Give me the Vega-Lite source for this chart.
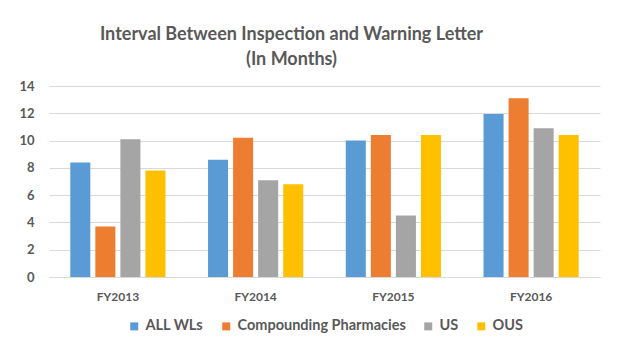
{
  "$schema": "https://vega.github.io/schema/vega-lite/v6.json",
  "width": 551,
  "height": 191,
  "padding": {"left": 18, "right": 25, "top": 26, "bottom": 5},
  "background": "white",
  "title": {
    "text": ["Interval Between Inspection and Warning Letter", "(In Months)"],
    "font": "Lato",
    "fontSize": 18,
    "fontWeight": "bold",
    "color": "#595959",
    "lineHeight": 25,
    "anchor": "middle",
    "dx": -33,
    "offset": 11
  },
  "data": {
    "values": [
      {"year": "FY2013", "series": "ALL WLs", "value": 8.4},
      {"year": "FY2013", "series": "Compounding Pharmacies", "value": 3.7},
      {"year": "FY2013", "series": "US", "value": 10.1},
      {"year": "FY2013", "series": "OUS", "value": 7.8},
      {"year": "FY2014", "series": "ALL WLs", "value": 8.6},
      {"year": "FY2014", "series": "Compounding Pharmacies", "value": 10.2},
      {"year": "FY2014", "series": "US", "value": 7.1},
      {"year": "FY2014", "series": "OUS", "value": 6.8},
      {"year": "FY2015", "series": "ALL WLs", "value": 10.0},
      {"year": "FY2015", "series": "Compounding Pharmacies", "value": 10.4},
      {"year": "FY2015", "series": "US", "value": 4.5},
      {"year": "FY2015", "series": "OUS", "value": 10.4},
      {"year": "FY2016", "series": "ALL WLs", "value": 11.95},
      {"year": "FY2016", "series": "Compounding Pharmacies", "value": 13.1},
      {"year": "FY2016", "series": "US", "value": 10.9},
      {"year": "FY2016", "series": "OUS", "value": 10.4}
    ]
  },
  "mark": {"type": "bar"},
  "encoding": {
    "x": {
      "field": "year",
      "type": "nominal",
      "scale": {"paddingInner": 0.2727, "paddingOuter": 0.1364},
      "axis": {
        "title": null,
        "labelAngle": 0,
        "labelFont": "Lato",
        "labelFontSize": 12,
        "labelFontWeight": "bold",
        "labelColor": "#595959",
        "labelPadding": 14,
        "ticks": false,
        "domainColor": "#d9d9d9",
        "domainWidth": 1
      }
    },
    "xOffset": {
      "field": "series",
      "type": "nominal",
      "sort": ["ALL WLs", "Compounding Pharmacies", "US", "OUS"],
      "scale": {"paddingInner": 0.2, "paddingOuter": 0.1}
    },
    "y": {
      "field": "value",
      "type": "quantitative",
      "scale": {"domain": [0, 14]},
      "axis": {
        "title": null,
        "values": [0, 2, 4, 6, 8, 10, 12, 14],
        "domain": false,
        "ticks": false,
        "labelFont": "Lato",
        "labelFontSize": 13,
        "labelFontWeight": "bold",
        "labelColor": "#595959",
        "labelPadding": 15,
        "gridColor": "#d9d9d9",
        "gridWidth": 1
      }
    },
    "color": {
      "field": "series",
      "type": "nominal",
      "sort": ["ALL WLs", "Compounding Pharmacies", "US", "OUS"],
      "scale": {
        "domain": ["ALL WLs", "Compounding Pharmacies", "US", "OUS"],
        "range": ["#5B9BD5", "#ED7D31", "#A5A5A5", "#FFC000"]
      },
      "legend": {
        "title": null,
        "orient": "bottom",
        "direction": "horizontal",
        "symbolType": "square",
        "symbolSize": 64,
        "symbolStrokeWidth": 0,
        "labelFont": "Lato",
        "labelFontSize": 14.5,
        "labelFontWeight": "bold",
        "labelColor": "#595959",
        "labelLimit": 0,
        "labelOffset": 4,
        "columnPadding": 15,
        "offset": 17
      }
    }
  },
  "config": {
    "view": {"stroke": null},
    "legend": {"layout": {"bottom": {"anchor": "middle"}}}
  }
}
